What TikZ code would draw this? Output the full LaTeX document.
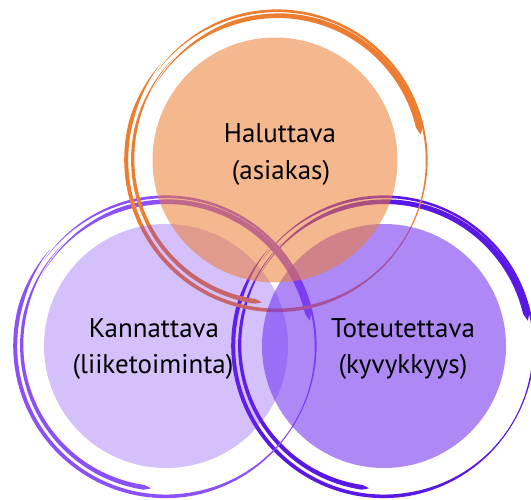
\documentclass[tikz,border=0pt]{standalone}
\usepackage{fontspec}
\setmainfont{PT Sans}

\definecolor{ringO}{HTML}{ED7D31}
\definecolor{ringL}{HTML}{8B50F8}
\definecolor{ringR}{HTML}{5A18E4}
\definecolor{fillO}{HTML}{ED7D31}
\definecolor{fillV}{HTML}{7030F0}

\tikzset{
  declare function={
    prof(\xs,\wa,\wb,\ka,\kb)=(\wa+(\wb-\wa)*\xs)*min(1,\xs/\ka,(1-\xs)/\kb);
  },
  lbl/.style={font=\fontsize{27}{30}\selectfont, text=black, inner sep=0pt, anchor=base},
}

% One brush stroke along a circle arc round the current origin:
% #1 radius at start, #2 radius at end, #3 start angle, #4 end angle,
% #5 width at start, #6 width at end, #7 taper-in share, #8 taper-out share
\newcommand{\brush}[8]{%
  \fill plot[domain=#3:#4, samples=90, variable=\t]
    ({((#1)+((#2)-(#1))*(\t-(#3))/((#4)-(#3))+0.5*prof((\t-(#3))/((#4)-(#3)),#5,#6,#7,#8))*cos(\t)},
     {((#1)+((#2)-(#1))*(\t-(#3))/((#4)-(#3))+0.5*prof((\t-(#3))/((#4)-(#3)),#5,#6,#7,#8))*sin(\t)})
  -- plot[domain=#4:#3, samples=90, variable=\t]
    ({((#1)+((#2)-(#1))*(\t-(#3))/((#4)-(#3))-0.5*prof((\t-(#3))/((#4)-(#3)),#5,#6,#7,#8))*cos(\t)},
     {((#1)+((#2)-(#1))*(\t-(#3))/((#4)-(#3))-0.5*prof((\t-(#3))/((#4)-(#3)),#5,#6,#7,#8))*sin(\t)})
  -- cycle;
}

% The hand-drawn ring: four overlapping brush strokes
\newcommand{\sketchring}{%
  \brush{143}{146}{150}{10}{3.2}{6.5}{0.3}{0.02}
  \brush{149}{150}{145}{-65}{3.2}{1.3}{0.2}{0.3}
  \brush{145}{143}{135}{264}{2.4}{4.8}{0.25}{0.02}
  \brush{151}{150}{140}{340}{4.2}{3.2}{0.12}{0.3}
}

\begin{document}
\begin{tikzpicture}[x=1pt,y=1pt]
  \useasboundingbox (0,0) rectangle (531,499);

  % rings
  \begin{scope}[shift={(384,153)}, fill=ringR]
    \sketchring
  \end{scope}
  \begin{scope}[shift={(166,153)}, fill=ringL]
    \sketchring
  \end{scope}
  \begin{scope}[shift={(277,339)}, fill=ringO]
    \sketchring
  \end{scope}

  % translucent discs
  \fill[fillV, fill opacity=0.30] (166,153) circle (122);
  \fill[fillV, fill opacity=0.57] (384,153) circle (122);
  \fill[fillO, fill opacity=0.55] (275,339) circle (122.5);

  % labels
  \node[lbl] (top1)   at (280,356) {Haluttava};
  \node[lbl] (top2)   at (281,319) {(asiakas)};
  \node[lbl] (left1)  at (154,161) {Kannattava};
  \node[lbl] (left2)  at (153,125) {(liiketoiminta)};
  \node[lbl] (right1) at (403,161) {Toteutettava};
  \node[lbl] (right2) at (403,125) {(kyvykkyys)};
\end{tikzpicture}
\end{document}
